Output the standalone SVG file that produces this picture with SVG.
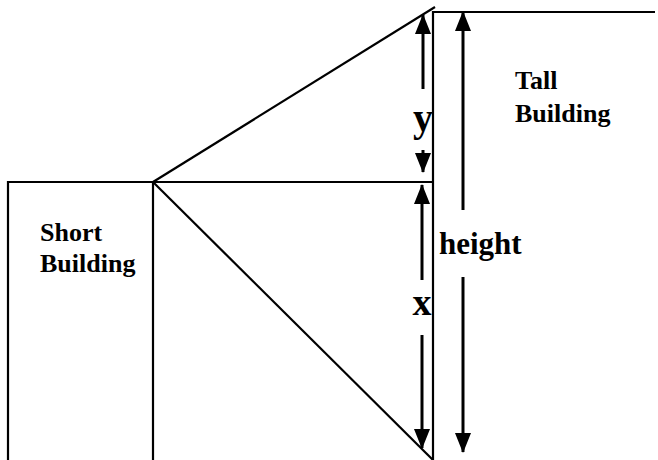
<svg xmlns="http://www.w3.org/2000/svg" width="658" height="460" viewBox="0 0 658 460">
<defs>
<marker id="ah" markerUnits="userSpaceOnUse" markerWidth="20" markerHeight="16" refX="19" refY="8" orient="auto" viewBox="0 0 20 16">
<path d="M0,0 L20,8 L0,16 Z" fill="#000"/>
</marker>
</defs>
<style>
.ln{stroke:#000;stroke-width:2.2;fill:none}
.ar{stroke:#000;stroke-width:3;fill:none;marker-end:url(#ah)}
.lb{font-family:"Liberation Serif",serif;font-weight:bold;fill:#000}
</style>
<rect width="658" height="460" fill="#fff"/>
<g id="short-building">
<path class="ln" d="M8,460 V182 H153 V460"/>
<text class="lb" x="40" y="241" font-size="26">Short</text>
<text class="lb" x="40" y="272" font-size="26">Building</text>
</g>
<g id="tall-building">
<path class="ln" d="M433,460 V12 H655"/>
<text class="lb" x="515" y="89" font-size="26">Tall</text>
<text class="lb" x="515" y="122" font-size="26">Building</text>
</g>
<g id="connectors">
<path class="ln" d="M153,182 L435,7"/>
<path class="ln" d="M153,182 H433"/>
<path class="ln" d="M153,182 L433,460"/>
<path class="ar" d="M423,89 V15"/>
<path class="ar" d="M423,150 V172"/>
<path class="ar" d="M422,280 V185"/>
<path class="ar" d="M422,335 V448"/>
<path class="ar" d="M463,210 V12"/>
<path class="ar" d="M463,277 V452"/>
</g>
<g id="labels">
<text class="lb" x="423" y="131" font-size="40" text-anchor="middle">y</text>
<text class="lb" x="422" y="315" font-size="38" text-anchor="middle">x</text>
<text class="lb" x="439" y="254" font-size="31">height</text>
</g>
</svg>
